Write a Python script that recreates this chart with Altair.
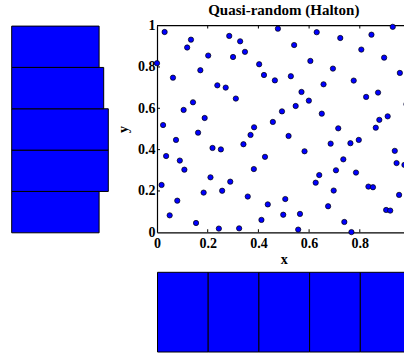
import altair as alt
import pandas as pd

# Quasi-random (Halton) sample, 100 points in the unit square
x_vals = [0.000, 0.030, 0.018, 0.024, 0.036, 0.050, 0.063, 0.075, 0.080, 0.090,
          0.105, 0.108, 0.119, 0.134, 0.142, 0.154, 0.162, 0.171, 0.184, 0.188,
          0.202, 0.211, 0.219, 0.238, 0.244, 0.252, 0.257, 0.271, 0.285, 0.289,
          0.300, 0.311, 0.324, 0.328, 0.341, 0.347, 0.358, 0.369, 0.382, 0.383,
          0.403, 0.412, 0.422, 0.426, 0.437, 0.457, 0.465, 0.477, 0.493, 0.498,
          0.506, 0.519, 0.528, 0.541, 0.547, 0.557, 0.564, 0.570, 0.582, 0.599,
          0.605, 0.626, 0.630, 0.640, 0.650, 0.657, 0.675, 0.685, 0.694, 0.697,
          0.706, 0.715, 0.723, 0.735, 0.739, 0.763, 0.767, 0.776, 0.785, 0.796,
          0.806, 0.825, 0.834, 0.846, 0.852, 0.863, 0.872, 0.877, 0.896, 0.904,
          0.910, 0.920, 0.930, 0.938, 0.945, 0.955, 0.958, 0.976, 0.984, 0.993]
y_vals = [0.818, 0.969, 0.229, 0.519, 0.369, 0.082, 0.748, 0.447, 0.153, 0.347,
          0.592, 0.303, 0.894, 0.932, 0.629, 0.045, 0.482, 0.784, 0.192, 0.553,
          0.855, 0.266, 0.408, 0.711, 0.018, 0.401, 0.201, 0.700, 0.950, 0.245,
          0.848, 0.647, 0.019, 0.924, 0.426, 0.873, 0.173, 0.471, 0.306, 0.508,
          0.813, 0.060, 0.761, 0.365, 0.135, 0.534, 0.735, 0.985, 0.585, 0.085,
          0.161, 0.466, 0.755, 0.906, 0.611, 0.013, 0.089, 0.679, 0.392, 0.637,
          0.829, 0.240, 0.968, 0.277, 0.574, 0.716, 0.126, 0.429, 0.792, 0.202,
          0.300, 0.503, 0.940, 0.353, 0.050, 0.431, 0.001, 0.734, 0.289, 0.447,
          0.884, 0.655, 0.221, 0.956, 0.218, 0.506, 0.676, 0.544, 0.845, 0.108,
          0.561, 0.105, 0.994, 0.394, 0.335, 0.181, 0.771, 0.326, 0.620, 0.700]

x_label_vals = [0, 0.2, 0.4, 0.6, 0.8]
y_label_vals = [0, 0.2, 0.4, 0.6, 0.8, 1]
inner_ticks = [0.2, 0.4, 0.6, 0.8]
title_text = "Quasi-random (Halton)"
x_title = "x"
y_title = "y"

W, H = 404, 354
X_RANGE = [157, 410.5]      # scatter panel, horizontal pixels
Y_RANGE = [232.3, 25.6]     # scatter panel, vertical pixels
YHIST_RANGE = [11.7, 108.3]  # left histogram bar lengths
XHIST_RANGE = [352, 272.3]   # bottom histogram bar heights
FONT = "Liberation Serif"
BLUE = "#0000ff"

pts = pd.DataFrame({"x": x_vals, "y": y_vals})
ticks = pd.DataFrame({"t": inner_ticks})
single = alt.Data(values=[{}])


def xscale():
    return alt.Scale(domain=[0, 1], range=X_RANGE, nice=False, zero=False)


def yscale():
    return alt.Scale(domain=[0, 1], range=Y_RANGE, nice=False, zero=False)


axis_style = dict(
    labelFont=FONT, labelFontWeight="bold", labelFontSize=14, labelColor="black",
    titleFont=FONT, titleFontWeight="bold", titleFontSize=14, titleColor="black",
    domainColor="black", domainWidth=1.2, ticks=False, grid=False,
    labelFlush=False, labelOverlap=False, format="~g",
)

points = alt.Chart(pts).mark_circle(
    color=BLUE, stroke="black", strokeWidth=0.7, size=28, opacity=1
).encode(
    x=alt.X("x:Q", scale=xscale(),
            axis=alt.Axis(orient="bottom", offset=-(H - Y_RANGE[0]), title=x_title,
                          values=x_label_vals, labelPadding=4, titlePadding=2,
                          **axis_style)),
    y=alt.Y("y:Q", scale=yscale(),
            axis=alt.Axis(orient="left", offset=-X_RANGE[0], title=y_title,
                          values=y_label_vals, labelPadding=2, titlePadding=7,
                          **axis_style)),
)

# Marginal histogram of y, bars growing to the right
y_hist = alt.Chart(pts).mark_bar(
    color=BLUE, stroke="black", strokeWidth=1, binSpacing=0
).encode(
    y=alt.Y("y:Q", bin=alt.Bin(extent=[0, 1], step=0.2), scale=yscale(), axis=None),
    x=alt.X("count():Q", scale=alt.Scale(domain=[0, 21], range=YHIST_RANGE, nice=False),
            axis=None),
)

# Marginal histogram of x, below the scatter panel
x_hist = alt.Chart(pts).mark_bar(
    color=BLUE, stroke="black", strokeWidth=1, binSpacing=0
).encode(
    x=alt.X("x:Q", bin=alt.Bin(extent=[0, 1], step=0.2), scale=xscale(), axis=None),
    y=alt.Y("count():Q", scale=alt.Scale(domain=[0, 20], range=XHIST_RANGE, nice=False),
            axis=None),
)

# Inward tick marks on the box
ticks_bottom = alt.Chart(ticks).mark_tick(
    orient="vertical", size=3, thickness=1, color="black", opacity=1, yOffset=-1.5
).encode(x=alt.X("t:Q", scale=xscale(), axis=None),
         y=alt.YDatum(0, scale=yscale(), axis=None))

ticks_top = alt.Chart(ticks).mark_tick(
    orient="vertical", size=3, thickness=1, color="black", opacity=1, yOffset=1.5
).encode(x=alt.X("t:Q", scale=xscale(), axis=None),
         y=alt.YDatum(1, scale=yscale(), axis=None))

ticks_left = alt.Chart(ticks).mark_tick(
    orient="horizontal", size=3, thickness=1, color="black", opacity=1, xOffset=1.5
).encode(y=alt.Y("t:Q", scale=yscale(), axis=None),
         x=alt.XDatum(0, scale=xscale(), axis=None))

# Top edge of the box
top_edge = alt.Chart(single).mark_rule(color="black", strokeWidth=1.2).encode(
    x=alt.XDatum(0, scale=xscale(), axis=None),
    x2=alt.X2Datum(1),
    y=alt.YDatum(1, scale=yscale(), axis=None),
)

title = alt.Chart(single).mark_text(
    text=title_text, font=FONT, fontWeight="bold", fontSize=15,
    baseline="alphabetic", align="center", color="black", dy=-10.6
).encode(
    x=alt.XDatum(0.5, scale=xscale(), axis=None),
    y=alt.YDatum(1, scale=yscale(), axis=None),
)

chart = alt.layer(
    y_hist, x_hist, top_edge, ticks_bottom, ticks_top, ticks_left, points, title
).resolve_scale(
    x="independent", y="independent"
).properties(
    width=W, height=H, padding=0,
    autosize=alt.AutoSizeParams(type="none"),
    background="white",
).configure_view(strokeWidth=0)

chart.save("out.html", embed_options={"renderer": "svg", "actions": False})
